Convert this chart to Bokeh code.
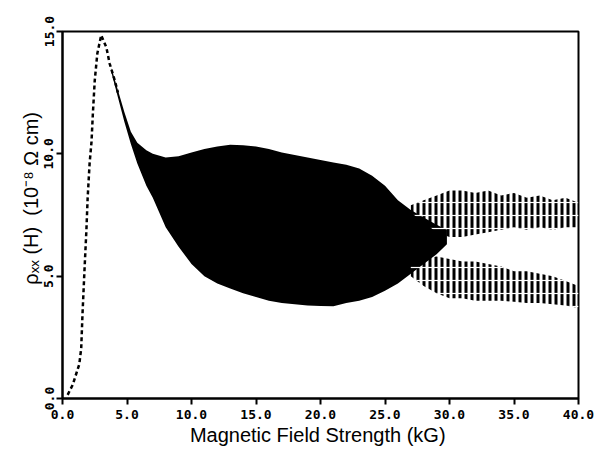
from bokeh.plotting import figure
from bokeh.models import Range1d, FixedTicker
from bokeh.embed import file_html
from bokeh.resources import INLINE

# Dashed low-field part of the curve (kG, 1e-8 ohm cm)
low_x = [0.4, 0.8, 1.3, 1.45, 1.55, 1.7, 1.85, 1.95, 2.1, 2.25, 2.35, 2.5, 2.7, 3.0, 3.4, 3.65, 4.05, 4.3]
low_y = [0.15, 0.57, 1.4, 2.05, 3.45, 5.2, 6.85, 8.2, 9.6, 10.5, 11.6, 13.0, 14.1, 14.85, 14.35, 13.7, 13.0, 12.5]

# Envelope of the densely oscillating region
env_x = [3.8, 4.3, 4.8, 5.3, 5.8, 6.5, 7.0, 8.0, 9.0, 10.0, 11.0, 12.0, 13.0, 14.0, 15.0, 16.0, 17.0,
         18.0, 19.0, 20.0, 21.0, 22.0, 23.0, 24.0, 25.0, 26.0, 27.0, 28.0, 29.0, 29.8]
env_upper = [13.5, 12.6, 11.7, 10.9, 10.45, 10.15, 10.0, 9.85, 9.9, 10.05, 10.2, 10.3, 10.37, 10.35, 10.3,
             10.2, 10.05, 9.95, 9.85, 9.75, 9.65, 9.55, 9.4, 9.1, 8.7, 8.1, 7.7, 7.4, 7.1, 6.9]
env_lower = [13.3, 12.3, 11.3, 10.4, 9.6, 8.7, 8.2, 7.0, 6.2, 5.5, 5.0, 4.7, 4.5, 4.3, 4.15, 4.0, 3.9,
             3.85, 3.8, 3.78, 3.77, 3.9, 4.0, 4.15, 4.4, 4.7, 5.1, 5.5, 5.9, 6.3]

# High-field scattered bands
hi_x = [27.0, 28.0, 29.0, 30.0, 31.0, 32.0, 33.0, 34.0, 35.0, 36.0, 37.0, 38.0, 39.0, 40.0]
up_top = [7.9, 8.1, 8.3, 8.5, 8.5, 8.4, 8.5, 8.3, 8.4, 8.2, 8.3, 8.1, 8.2, 8.0]
up_bot = [7.6, 7.2, 6.8, 6.6, 6.6, 6.7, 6.8, 6.9, 7.0, 6.9, 7.0, 6.9, 7.0, 7.0]
lo_top = [5.5, 5.7, 5.8, 5.7, 5.6, 5.6, 5.5, 5.4, 5.2, 5.2, 5.1, 5.0, 4.8, 4.6]
lo_bot = [5.0, 4.6, 4.3, 4.1, 4.1, 4.0, 4.0, 4.0, 3.95, 3.9, 3.9, 3.85, 3.8, 3.7]

x_ticks = [0, 5, 10, 15, 20, 25, 30, 35, 40]
y_ticks = [0, 5, 10, 15]
x_labels = {0: "0.0", 5: "5.0", 10: "10.0", 15: "15.0", 20: "20.0", 25: "25.0", 30: "30.0", 35: "35.0", 40: "40.0"}
y_labels = {0: "0.0", 5: "5.0", 10: "10.0", 15: "15.0"}

p = figure(width=606, height=450, x_range=Range1d(0, 40), y_range=Range1d(0, 15),
           output_backend="svg", toolbar_location=None,
           min_border_left=62, min_border_right=28, min_border_top=31, min_border_bottom=52)

p.grid.visible = False
p.outline_line_color = "black"
p.outline_line_width = 2
p.background_fill_color = "white"
p.border_fill_color = "white"

p.line(low_x, low_y, line_color="black", line_width=2.5, line_dash="4 3")
p.varea(x=env_x, y1=env_lower, y2=env_upper, fill_color="black")
for yb, yt in ((up_bot, up_top), (lo_bot, lo_top)):
    p.varea(x=hi_x, y1=yb, y2=yt, fill_alpha=0, hatch_pattern="vertical_line",
            hatch_color="black", hatch_scale=6, hatch_weight=3)
    p.varea(x=hi_x, y1=yb, y2=yt, fill_alpha=0, hatch_pattern="horizontal_line",
            hatch_color="white", hatch_scale=13, hatch_weight=1.2)

for ax in (p.xaxis[0], p.yaxis[0]):
    ax.axis_line_width = 2
    ax.major_tick_line_width = 2
    ax.major_tick_in = 0
    ax.major_tick_out = 6
    ax.minor_tick_line_color = None
    ax.major_label_text_font = "DejaVu Sans Mono"
    ax.major_label_text_font_style = "bold"
    ax.major_label_text_font_size = "13px"
    ax.major_label_text_color = "black"
    ax.axis_label_text_font = "Liberation Sans"
    ax.axis_label_text_font_style = "normal"
    ax.axis_label_text_font_size = "20px"
    ax.axis_label_text_color = "black"

p.xaxis.ticker = FixedTicker(ticks=x_ticks)
p.yaxis.ticker = FixedTicker(ticks=y_ticks)
p.xaxis.major_label_overrides = x_labels
p.yaxis.major_label_overrides = y_labels
p.yaxis.major_label_orientation = "vertical"
p.xaxis.major_label_standoff = 5
p.yaxis.major_label_standoff = 3
p.xaxis.axis_label_standoff = 2
p.yaxis.axis_label_standoff = 0
p.xaxis.axis_label = "Magnetic Field Strength  (kG)"
p.yaxis.axis_label = "\u00a0\u00a0\u00a0\u00a0\u00a0\u00a0\u03c1\u2093\u2093 (H)\u00a0\u00a0(10\u207b\u2078 \u03a9 cm)"

open("out.html", "w").write(file_html(p, INLINE))
